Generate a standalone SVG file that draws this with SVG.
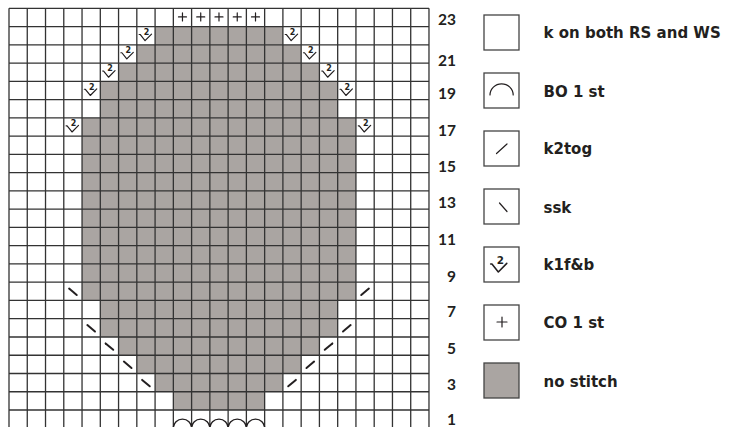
<svg xmlns="http://www.w3.org/2000/svg" xmlns:xlink="http://www.w3.org/1999/xlink" width="731" height="427" viewBox="0 0 731 427">
<style>
.grid{fill:none;stroke:#333;stroke-width:1.3}
.gray{fill:#aaa5a2}
.lbl{font-family:"DejaVu Sans","Open Sans","Liberation Sans",sans-serif;font-weight:bold;font-size:15px;fill:#231f20}
.num{font-family:Lato,"Open Sans","Liberation Sans",sans-serif;font-weight:bold;font-size:15.5px;fill:#231f20;text-anchor:end}
.box{fill:#fff;stroke:#444;stroke-width:1.3}
.sym{fill:none;stroke:#231f20;stroke-width:1.2;stroke-linecap:round;stroke-linejoin:round}
.dec{fill:none;stroke:#231f20;stroke-width:2;stroke-linecap:round}
.two{font-family:"DejaVu Sans","Liberation Sans",sans-serif;font-weight:bold;font-size:8px;fill:#231f20;text-anchor:middle}
</style>
<defs>
<g id="kfb">
<path class="sym" d="M-6.8,-1.2 L-5.8,-1.2 L-0.9,5 L5.6,-1.6"/>
<text class="two" x="0.6" y="-0.9">2</text>
</g>
<path id="ssk" class="dec" d="M-3.8,-3.2 L3.8,3.2"/>
<path id="k2tog" class="dec" d="M-3.8,3.2 L3.8,-3.2"/>
<path id="plus" class="sym" d="M-4,0 H4 M0,-4 V4"/>
</defs>
<rect width="731" height="427" fill="#fff"/>
<g id="chart">
<g id="nostitch" class="gray" transform="translate(9,8.3) scale(18.26)">
<rect x="8" y="1" width="7" height="1"/>
<rect x="7" y="2" width="9" height="1"/>
<rect x="6" y="3" width="11" height="1"/>
<rect x="5" y="4" width="13" height="2"/>
<rect x="4" y="6" width="15" height="10"/>
<rect x="5" y="16" width="13" height="2"/>
<rect x="6" y="18" width="11" height="1"/>
<rect x="7" y="19" width="9" height="1"/>
<rect x="8" y="20" width="7" height="1"/>
<rect x="9" y="21" width="5" height="1"/>
</g>
<path id="gridlines" class="grid" d="M9,8.3V428 M27.26,8.3V428 M45.52,8.3V428 M63.78,8.3V428 M82.04,8.3V428 M100.3,8.3V428 M118.56,8.3V428 M136.82,8.3V428 M155.08,8.3V428 M173.34,8.3V428 M191.6,8.3V428 M209.86,8.3V428 M228.12,8.3V428 M246.38,8.3V428 M264.64,8.3V428 M282.9,8.3V428 M301.16,8.3V428 M319.42,8.3V428 M337.68,8.3V428 M355.94,8.3V428 M374.2,8.3V428 M392.46,8.3V428 M410.72,8.3V428 M428.98,8.3V428 M9,8.3H429 M9,26.56H429 M9,44.82H429 M9,63.08H429 M9,81.34H429 M9,99.6H429 M9,117.86H429 M9,136.12H429 M9,154.38H429 M9,172.64H429 M9,190.9H429 M9,209.16H429 M9,227.42H429 M9,245.68H429 M9,263.94H429 M9,282.2H429 M9,300.46H429 M9,318.72H429 M9,336.98H429 M9,355.24H429 M9,373.5H429 M9,391.76H429 M9,410.02H429"/>
<g id="kfb-cells">
<use xlink:href="#kfb" x="145.95" y="35.69"/>
<use xlink:href="#kfb" x="292.03" y="35.69"/>
<use xlink:href="#kfb" x="127.69" y="53.95"/>
<use xlink:href="#kfb" x="310.29" y="53.95"/>
<use xlink:href="#kfb" x="109.43" y="72.21"/>
<use xlink:href="#kfb" x="328.55" y="72.21"/>
<use xlink:href="#kfb" x="91.17" y="90.47"/>
<use xlink:href="#kfb" x="346.81" y="90.47"/>
<use xlink:href="#kfb" x="72.91" y="126.99"/>
<use xlink:href="#kfb" x="365.07" y="126.99"/>
</g>
<g id="ssk-cells">
<use xlink:href="#ssk" x="72.91" y="291.8"/>
<use xlink:href="#ssk" x="91.17" y="328.3"/>
<use xlink:href="#ssk" x="109.43" y="346.6"/>
<use xlink:href="#ssk" x="127.69" y="364.8"/>
<use xlink:href="#ssk" x="145.95" y="383.1"/>
</g>
<g id="k2tog-cells">
<use xlink:href="#k2tog" x="365.07" y="291.8"/>
<use xlink:href="#k2tog" x="346.81" y="328.3"/>
<use xlink:href="#k2tog" x="328.55" y="346.6"/>
<use xlink:href="#k2tog" x="310.29" y="364.8"/>
<use xlink:href="#k2tog" x="292.03" y="383.1"/>
</g>
<g id="co-cells">
<use xlink:href="#plus" x="182.47" y="16.9"/>
<use xlink:href="#plus" x="200.73" y="16.9"/>
<use xlink:href="#plus" x="218.99" y="16.9"/>
<use xlink:href="#plus" x="237.25" y="16.9"/>
<use xlink:href="#plus" x="255.51" y="16.9"/>
</g>
<path id="bo-cells" fill="none" stroke="#231f20" stroke-width="1.4" d="M173.34,428.28 A9.13,9.13 0 0 1 191.6,428.28 A9.13,9.13 0 0 1 209.86,428.28 A9.13,9.13 0 0 1 228.12,428.28 A9.13,9.13 0 0 1 246.38,428.28 A9.13,9.13 0 0 1 264.64,428.28"/>
</g>
<g id="row-numbers">
<text class="num" x="456" y="25">23</text>
<text class="num" x="456" y="66">21</text>
<text class="num" x="456" y="99">19</text>
<text class="num" x="456" y="136">17</text>
<text class="num" x="456" y="171.5">15</text>
<text class="num" x="456" y="207.5">13</text>
<text class="num" x="456" y="245">11</text>
<text class="num" x="456" y="281.5">9</text>
<text class="num" x="456" y="317">7</text>
<text class="num" x="456" y="354">5</text>
<text class="num" x="456" y="390">3</text>
<text class="num" x="456" y="424.5">1</text>
</g>
<g id="legend-knit">
<rect class="box" x="484" y="15" width="35" height="35"/>
<text class="lbl" x="543.5" y="37.5">k on both RS and WS</text>
</g>
<g id="legend-bo">
<rect class="box" x="484" y="73" width="35" height="35"/>
<path class="sym" d="M490,95 A11.6,11.2 0 0 1 513.2,95"/>
<text class="lbl" x="543.5" y="96.5">BO 1 st</text>
</g>
<g id="legend-k2tog">
<rect class="box" x="484" y="131" width="35" height="35"/>
<path class="sym" d="M496.5,153.5 L507,144"/>
<text class="lbl" x="543.5" y="153.5">k2tog</text>
</g>
<g id="legend-ssk">
<rect class="box" x="484" y="189" width="35" height="35"/>
<path class="sym" d="M499.5,203 L507,211.5"/>
<text class="lbl" x="543.5" y="212.5">ssk</text>
</g>
<g id="legend-kfb">
<rect class="box" x="484" y="247" width="35" height="35"/>
<use xlink:href="#kfb" transform="translate(499.5,265.5) scale(1.3)"/>
<text class="lbl" x="543.5" y="270">k1f&amp;b</text>
</g>
<g id="legend-co">
<rect class="box" x="484" y="305" width="35" height="35"/>
<path class="sym" d="M497,322 H507 M502,317 V327"/>
<text class="lbl" x="543.5" y="328">CO 1 st</text>
</g>
<g id="legend-nostitch">
<rect class="box" x="484" y="363" width="35" height="35" style="fill:#aaa5a2"/>
<text class="lbl" x="543.5" y="386.5">no stitch</text>
</g>
</svg>
